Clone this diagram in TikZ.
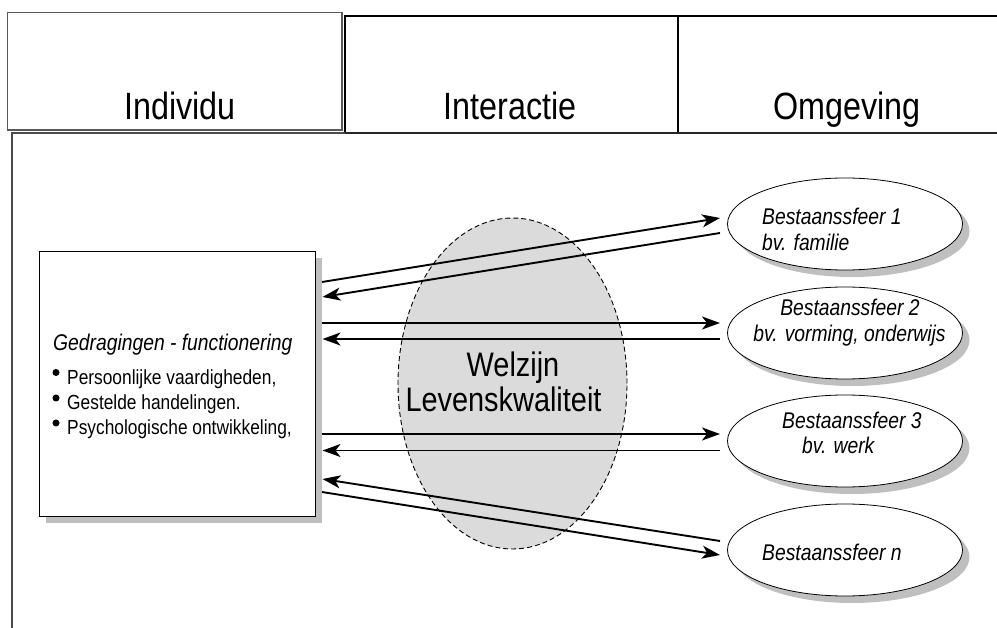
\documentclass[tikz,border=0pt]{standalone}
\usepackage{fontspec}
\setmainfont{Liberation Sans}
\newfontfamily\nar[FakeStretch=0.85]{Liberation Sans}
\usetikzlibrary{shadows,arrows.meta,shapes.geometric}
\begin{document}
\begin{tikzpicture}[x=1pt,y=-1pt,
  hdrtext/.style={font=\nar\fontsize{38pt}{40pt}\selectfont, anchor=base, inner sep=0pt},
  wtext/.style={font=\nar\fontsize{34pt}{36pt}\selectfont, anchor=base, inner sep=0pt},
  etext/.style={font=\nar\itshape\fontsize{22.7pt}{26pt}\selectfont, inner sep=0pt},
  btext/.style={font=\nar\fontsize{20.4pt}{24pt}\selectfont, anchor=base west, inner sep=0pt},
  myshadow/.style={drop shadow={shadow xshift=7pt,shadow yshift=-7pt,fill=black!25,opacity=1}},
  sfeer/.style={ellipse, draw, line width=0.8pt, fill=white, minimum width=235pt, minimum height=92pt, inner sep=0pt, myshadow},
  arr/.style={line width=1.9pt, -{Stealth[length=18pt,width=13pt,inset=5pt]}},
  bul/.style={circle, fill=black, inner sep=0pt, minimum size=7pt}
]
\useasboundingbox (0,0) rectangle (997,628);
\fill[white] (0,0) rectangle (997,628);

% header boxes
\draw[line width=1.6pt, black!65] (7.5,12.5) rectangle (342,130);
\draw[line width=1.1pt] (345,16) rectangle (678,133);
\draw[line width=1.1pt] (678,16) -- (997,16);
% main frame
\draw[line width=1.3pt, black!70] (12,628) -- (12,133) -- (345,133);
\draw[line width=1.6pt, black!85] (345,133) -- (997,133);

\node[hdrtext] (tind) at (180,120) {Individu};
\node[hdrtext] (tint) at (510,120) {Interactie};
\node[hdrtext] (tomg) at (847,120) {Omgeving};

% welzijn ellipse
\node[ellipse, draw, dash pattern=on 5pt off 3pt, line width=0.9pt, fill=black!14,
      minimum width=229pt, minimum height=331pt, inner sep=0pt] (wz) at (512.5,383.5) {};
\node[wtext] (wz1) at (513,377) {Welzijn};
\node[wtext] (wz2) at (503.5,412) {Levenskwaliteit};

% left box
\node[draw, line width=0.9pt, fill=white, minimum width=276pt, minimum height=265pt, inner sep=0pt, myshadow] (box) at (177,383.5) {};
\node[etext, anchor=base west] (gedr) at (53,351) {Gedragingen - functionering};
\node[bul] (d1) at (56,372.5) {};
\node[bul] (d2) at (56,398) {};
\node[bul] (d3) at (56,423) {};
\node[btext] (p1) at (67,385) {Persoonlijke vaardigheden,};
\node[btext] (p2) at (67,410) {Gestelde handelingen.};
\node[btext] (p3) at (67,435) {Psychologische ontwikkeling,};

% spheres
\node[sfeer] (s1) at (845,224) {};
\node[sfeer] (s2) at (845,333) {};
\node[sfeer] (s3) at (845,441) {};
\node[sfeer] (s4) at (845,550) {};

\node[etext, anchor=base west] (s1a) at (762,225) {Bestaanssfeer 1};
\node[etext, anchor=base west] (s1b) at (762,251) {bv. familie};
\node[etext, anchor=base] (s2a) at (850,316) {Bestaanssfeer 2};
\node[etext, anchor=base] (s2b) at (849.5,342) {bv. vorming, onderwijs};
\node[etext, anchor=base west] (s3a) at (782,429) {Bestaanssfeer 3};
\node[etext, anchor=base west] (s3b) at (802,454) {bv. werk};
\node[etext, anchor=base west] (s4a) at (762,560) {Bestaanssfeer n};

% arrow end points
\coordinate (b1o) at (322,282);   \coordinate (e1i) at (720,218);
\coordinate (e1o) at (720,233);   \coordinate (b1i) at (322.5,297);
\coordinate (b2o) at (322,323);   \coordinate (e2i) at (720,323);
\coordinate (e2o) at (720,339);   \coordinate (b2i) at (322.5,339);
\coordinate (b3o) at (322,434);   \coordinate (e3i) at (720,434);
\coordinate (e3o) at (720,450.5); \coordinate (b3i) at (322.5,450.5);
\coordinate (e4o) at (720,541);   \coordinate (b4i) at (322.5,479);
\coordinate (b4o) at (322,492);   \coordinate (e4i) at (720,555);

\draw[arr] (b1o) -- (e1i);
\draw[arr] (e1o) -- (b1i);
\draw[arr] (b2o) -- (e2i);
\draw[arr] (e2o) -- (b2i);
\draw[arr] (b3o) -- (e3i);
\draw[arr] (e3o) -- (b3i);
\draw[arr] (e4o) -- (b4i);
\draw[arr] (b4o) -- (e4i);
\end{tikzpicture}
\end{document}
